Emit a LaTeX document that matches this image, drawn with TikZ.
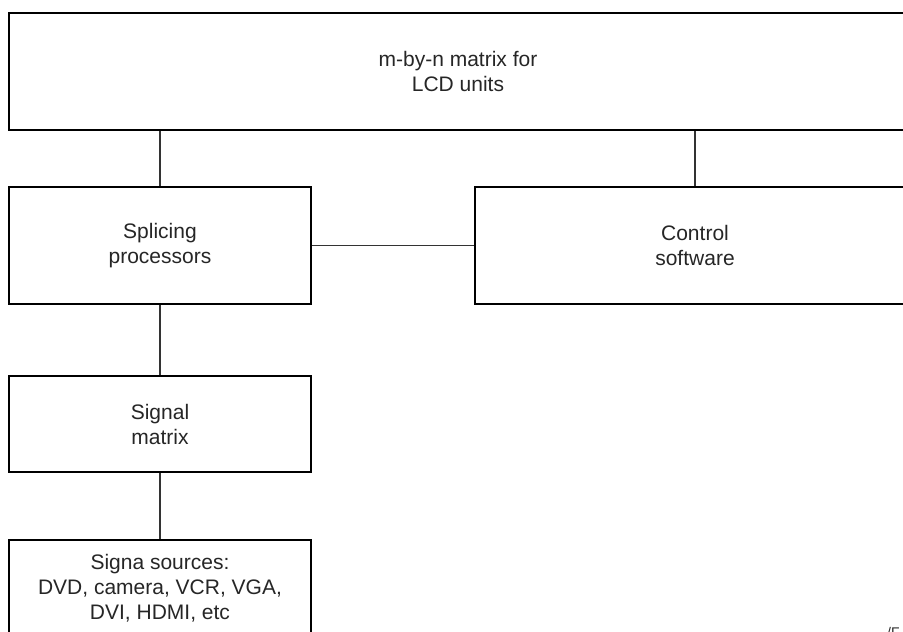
\documentclass[tikz,border=0pt]{standalone}
\usepackage{fontspec}
\setmainfont{Liberation Sans}
\begin{document}
\begin{tikzpicture}[x=1pt,y=-1pt,
  blk/.style={draw=black, line width=2.6pt, fill=white, align=center, inner sep=0pt,
    font=\fontsize{21}{25}\selectfont, text=black!85},
  conn/.style={draw=black!80, line width=1.3pt}]
\useasboundingbox (0,0) rectangle (903,632);
\node[blk, minimum width=898pt, minimum height=117pt] (top) at (458,71.5) {m-by-n matrix for\\LCD units};
\node[blk, minimum width=302pt, minimum height=117pt] (spl) at (160,245.5) {Splicing\\processors};
\node[blk, minimum width=440pt, minimum height=117pt] (ctrl) at (695,245.5) {Control\\software};
\node[blk, minimum width=302pt, minimum height=96pt] (sig) at (160,424) {Signal\\matrix};
\node[blk, minimum width=302pt, minimum height=96pt] (src) at (160,588) {Signa sources:\\DVD, camera, VCR, VGA,\\DVI, HDMI, etc};
\node[anchor=north west, inner sep=0pt, font=\fontsize{14}{16}\selectfont, text=black!85] (fig) at (887,627) {/F};
\draw[conn] (top.south -| spl.north) -- (spl.north);
\draw[conn] (top.south -| ctrl.north) -- (ctrl.north);
\draw[conn] (spl.east) -- (ctrl.west);
\draw[conn] (spl.south) -- (sig.north);
\draw[conn] (sig.south) -- (src.north);
\end{tikzpicture}
\end{document}
